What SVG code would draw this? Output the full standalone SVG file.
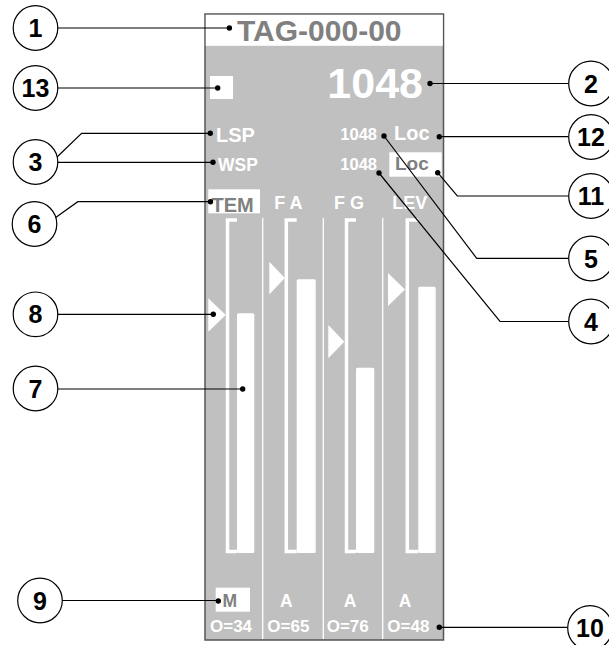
<svg xmlns="http://www.w3.org/2000/svg" width="609" height="645" viewBox="0 0 609 645">
<defs>
<style>
.callout circle{fill:#fff;stroke:#000;stroke-width:1.2}
.callout text{font-family:"Liberation Sans Narrow","Liberation Sans",Arial,sans-serif;font-weight:bold;font-size:25px;fill:#000;text-anchor:middle}
.conn path,.conn line{fill:none;stroke:#000;stroke-width:1.2}
.conn circle{fill:#000}
.w{font-family:"Liberation Sans",Arial,sans-serif;font-weight:bold;fill:#fff}
.g{font-family:"Liberation Sans",Arial,sans-serif;font-weight:bold;fill:#808080}
.bar{fill:#fff}
.brk{fill:none;stroke:#fff;stroke-width:3.5}
.sep{stroke:#fff;stroke-width:1.3}
.tri{fill:#fff}
</style>
</defs>
<g id="panel">
<rect x="205" y="14" width="238.5" height="626" fill="#c0c0c0" stroke="#555" stroke-width="1.5"/>
<rect x="205.8" y="14.8" width="237" height="31" fill="#fff"/>
<text class="g" x="237" y="41" font-size="30">TAG-000-00</text>
<rect x="210" y="76" width="23" height="23" fill="#fff"/>
<text class="w" x="423" y="98" font-size="43" text-anchor="end">1048</text>
<text class="w" x="216" y="141.5" font-size="20">LSP</text>
<text class="w" x="218" y="171" font-size="17.5">WSP</text>
<text class="w" x="377" y="140" font-size="16.5" text-anchor="end">1048</text>
<text class="w" x="377" y="170" font-size="16.5" text-anchor="end">1048</text>
<text class="w" x="394" y="140" font-size="20">Loc</text>
<rect x="389.3" y="152.3" width="52.4" height="24.4" fill="#fff"/>
<text class="g" x="395" y="170" font-size="19">Loc</text>
<rect x="208.3" y="189.3" width="51.7" height="24" fill="#fff"/>
<text class="g" x="211.5" y="211.5" font-size="20">TEM</text>
<text class="w" x="288.3" y="209" font-size="18" text-anchor="middle">F A</text>
<text class="w" x="349" y="209" font-size="18" text-anchor="middle">F G</text>
<text class="w" x="409.7" y="209" font-size="18" text-anchor="middle">LEV</text>
<line class="sep" x1="262.7" y1="218" x2="262.7" y2="639"/>
<line class="sep" x1="323.3" y1="218" x2="323.3" y2="639"/>
<line class="sep" x1="382.7" y1="218" x2="382.7" y2="639"/>
</g>
<g id="col1">
<path class="brk" d="M237 220 H227.5 V551.5 H237"/>
<rect class="bar" x="237" y="313.3" width="17.3" height="239.7" rx="1.5"/>
<polygon class="tri" points="208.3,298.3 225.7,315 208.3,331.7"/>
<rect x="215.7" y="587.7" width="34.3" height="24" fill="#fff"/>
<text class="g" x="222.5" y="607" font-size="17.5">M</text>
<text class="w" x="210" y="632" font-size="17">O=34</text>
</g>
<g id="col2">
<path class="brk" d="M296.7 220 H286.3 V551.5 H296.7"/>
<rect class="bar" x="296.7" y="279.3" width="19" height="273.7" rx="1.5"/>
<polygon class="tri" points="269.3,261.7 284.8,278 269.3,294.5"/>
<text class="w" x="286.3" y="607" font-size="17.5" text-anchor="middle">A</text>
<text class="w" x="267.3" y="632" font-size="17">O=65</text>
</g>
<g id="col3">
<path class="brk" d="M356 220 H346.5 V551.5 H356"/>
<rect class="bar" x="356" y="367.7" width="18.3" height="185.3" rx="1.5"/>
<polygon class="tri" points="328.3,325 344.3,341.7 328.3,358.3"/>
<text class="w" x="350" y="607" font-size="17.5" text-anchor="middle">A</text>
<text class="w" x="326.7" y="632" font-size="17">O=76</text>
</g>
<g id="col4">
<path class="brk" d="M418.3 220 H407.3 V551.5 H418.3"/>
<rect class="bar" x="418.3" y="286.7" width="17.4" height="266.3" rx="1.5"/>
<polygon class="tri" points="388,273 405,289.5 388,306"/>
<text class="w" x="405" y="607" font-size="17.5" text-anchor="middle">A</text>
<text class="w" x="387.3" y="632" font-size="17">O=48</text>
</g>
<g id="connectors" class="conn">
<line x1="57" y1="28" x2="229.4" y2="28"/><circle cx="229.4" cy="28" r="2.7"/>
<line x1="57" y1="88" x2="217.7" y2="88"/><circle cx="217.7" cy="88" r="2.7"/>
<line x1="430" y1="83.5" x2="568.5" y2="83.5"/><circle cx="430" cy="83.5" r="2.7"/>
<path d="M56 158 L81.6 133.3 H210.3"/><circle cx="210.3" cy="133.3" r="2.7"/>
<line x1="57.5" y1="162.3" x2="213" y2="162.3"/><circle cx="213" cy="162.3" r="2.7"/>
<line x1="439.3" y1="136.7" x2="568.5" y2="136.7"/><circle cx="439.3" cy="136.7" r="2.7"/>
<path d="M437.7 172.7 L457.3 196 H568.5"/><circle cx="437.7" cy="172.7" r="2.7"/>
<path d="M384 136 L476.7 258.3 H568.5"/><circle cx="384" cy="136" r="2.7"/>
<path d="M379 173 L500 321.5 H568.5"/><circle cx="379" cy="173" r="2.7"/>
<path d="M55 218 L77.8 201.7 H210.5"/><circle cx="210.5" cy="201.7" r="2.7"/>
<line x1="58" y1="314.3" x2="213.3" y2="314.3"/><circle cx="213.3" cy="314.3" r="2.7"/>
<line x1="58" y1="389" x2="242.7" y2="389"/><circle cx="242.7" cy="389" r="2.7"/>
<line x1="62" y1="600.5" x2="218.3" y2="600.5"/><circle cx="218.3" cy="601" r="2.7"/>
<line x1="439.3" y1="627.3" x2="567.6" y2="627.3"/><circle cx="439.3" cy="627.3" r="2.7"/>
</g>
<g id="c1" class="callout"><circle cx="35.5" cy="28" r="22.3"/><text x="35.5" y="37">1</text></g>
<g id="c13" class="callout"><circle cx="35.5" cy="88" r="22.3"/><text x="35.5" y="97">13</text></g>
<g id="c3" class="callout"><circle cx="35.5" cy="162" r="22.3"/><text x="35.5" y="171">3</text></g>
<g id="c6" class="callout"><circle cx="34.5" cy="224" r="22.3"/><text x="34.5" y="233">6</text></g>
<g id="c8" class="callout"><circle cx="35.5" cy="314.3" r="22.3"/><text x="35.5" y="323.3">8</text></g>
<g id="c7" class="callout"><circle cx="35.5" cy="388.5" r="22.3"/><text x="35.5" y="397.5">7</text></g>
<g id="c9" class="callout"><circle cx="40" cy="600.5" r="22.3"/><text x="40" y="609.5">9</text></g>
<g id="c2" class="callout"><circle cx="591" cy="83.5" r="22.3"/><text x="591" y="92.5">2</text></g>
<g id="c12" class="callout"><circle cx="591" cy="137" r="22.3"/><text x="591" y="146">12</text></g>
<g id="c11" class="callout"><circle cx="591" cy="196" r="22.3"/><text x="591" y="205">11</text></g>
<g id="c5" class="callout"><circle cx="591" cy="258.5" r="22.3"/><text x="591" y="267.5">5</text></g>
<g id="c4" class="callout"><circle cx="591" cy="321.5" r="22.3"/><text x="591" y="330.5">4</text></g>
<g id="c10" class="callout"><circle cx="590" cy="628" r="22.3"/><text x="590" y="637">10</text></g>
</svg>
